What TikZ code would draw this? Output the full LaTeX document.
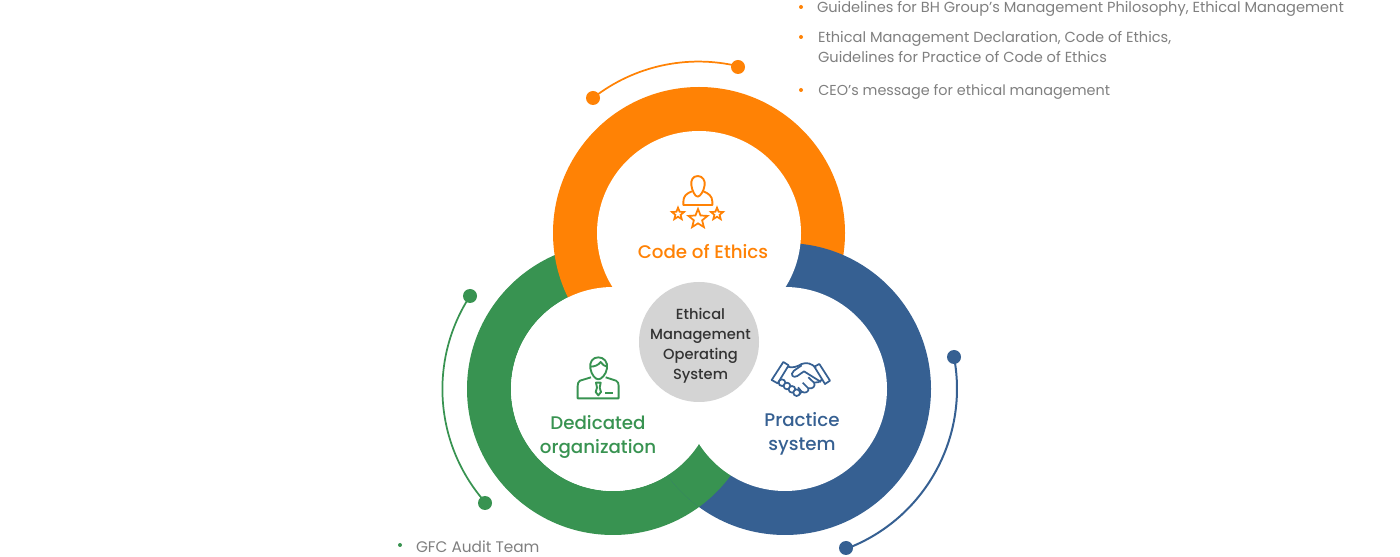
\documentclass[tikz,border=0pt]{standalone}
\usepackage{fontspec}
\setmainfont{Poppins}
\newfontfamily\mediumfont{Poppins Medium}
\usepackage{tikz}
\usetikzlibrary{positioning,shapes.geometric}
\definecolor{orangering}{HTML}{FF8205}
\definecolor{greenring}{HTML}{389351}
\definecolor{bluering}{HTML}{366092}
\definecolor{grayhub}{HTML}{D4D4D4}
\definecolor{grayitem}{HTML}{7F7F7F}
\definecolor{darkhub}{HTML}{333333}
\tikzset{
  itemtext/.style={inner sep=0pt,outer sep=0pt,anchor=west,align=left,text=grayitem,font=\fontsize{10.95}{15}\selectfont},
  bulletdot/.style={circle,fill=#1,inner sep=0pt,minimum size=3pt},
  enddot/.style={circle,fill=#1,inner sep=0pt,minimum size=10.5pt},
  ringlabel/.style={inner sep=0pt,align=center,text=#1,font=\mediumfont\fontsize{13.7}{18}\selectfont},
  iconstar/.style={star,star points=5,star point ratio=2.3,draw=orangering,line width=1.3pt,inner sep=0pt,minimum size=#1},
}
\begin{document}
\begin{tikzpicture}[x=.75pt,y=.75pt]
\useasboundingbox (0,0) rectangle (1400,557);
% RINGS: green first, then orange and blue, then the green piece back over blue
\fill[greenring,even odd rule] (613,168) circle[radius=146] (613,168) circle[radius=102];
\fill[orangering] (699,324) circle[radius=146];
\fill[bluering] (785,168) circle[radius=146];
\begin{scope}
\clip (785,168) circle[radius=146];
\fill[greenring] (613,168) circle[radius=146];
\end{scope}
% INNER DISCS
\foreach \cx/\cy in {699/324,613/168,785/168}
  \fill[white] (\cx,\cy) circle[radius=102];
% HUB
\node[circle,fill=grayhub,inner sep=0pt,minimum size=90pt] (hub) at (699,215) {};
\node[inner sep=0pt,align=center,text=darkhub,font=\mediumfont\fontsize{11}{15}\selectfont] (hubtext) at (700.5,211.5) {Ethical\\Management\\Operating\\System};
% LABELS
\node[ringlabel=orangering] (ethics) at (703,305) {Code of Ethics};
\node[ringlabel=greenring] (dedicated) at (598,120) {Dedicated\\organization};
\node[ringlabel=bluering] (practice) at (802,123) {Practice\\system};
% ARCS WITH END DOTS
\node[enddot=orangering] (orangeA) at (593,459) {};
\node[enddot=orangering] (orangeB) at (738,490) {};
\draw[orangering,line width=1.3pt] (orangeA.center) arc[start angle=128.1,end angle=76.8,radius=171];
\node[enddot=greenring] (greenA) at (470,261) {};
\node[enddot=greenring] (greenB) at (485,54) {};
\draw[greenring,line width=1.3pt] (greenA.center) arc[start angle=147,end angle=221.7,radius=171];
\node[enddot=bluering] (blueA) at (954,200) {};
\node[enddot=bluering] (blueB) at (846,9) {};
\draw[bluering,line width=1.5pt] (blueA.center) arc[start angle=10.7,end angle=-69,radius=171];
% ICON: person with stars
\begin{scope}[shift={(620,397)},x=.25pt,y=-.25pt,orangering,line width=1.4pt,line join=round]
\draw (233,48) .. controls (218,48) and (212,62) .. (214,75) .. controls (216,92) and (225,110) .. (233,110) .. controls (241,110) and (252,92) .. (254,75) .. controls (256,62) and (248,48) .. (233,48);
\draw (216,94) .. controls (200,100) and (190,108) .. (190,125) -- (190,135) -- (277,135) -- (277,125) .. controls (277,108) and (265,100) .. (250,94);
\end{scope}
\node[iconstar=9.5pt] (starL) at (678,343) {};
\node[iconstar=15pt] (starM) at (698,338) {};
\node[iconstar=9.5pt] (starR) at (717,343) {};
% ICON: man with tie
\begin{scope}[shift={(530,217)},x=.25pt,y=-.25pt,greenring,line width=1.4pt,line join=round]
\draw (205,52) .. controls (188,52) and (178,66) .. (181,85) .. controls (184,104) and (196,118) .. (205,118) .. controls (214,118) and (228,104) .. (231,85) .. controls (234,66) and (222,52) .. (205,52);
\draw (181,80) .. controls (195,80) and (205,75) .. (212,66) .. controls (216,74) and (224,78) .. (231,80);
\draw (183,112) -- (150,122) .. controls (145,125) and (143,130) .. (143,138) -- (143,175) -- (266,175) -- (266,138) .. controls (266,130) and (264,125) .. (258,122) -- (227,112);
\draw (198,128) -- (212,128) -- (209,143) -- (213,156) -- (205,166) -- (197,156) -- (201,143) -- cycle;
\draw (226,160) -- (248,160);
\end{scope}
% ICON: handshake
\begin{scope}[shift={(530,217)},x=.25pt,y=-.25pt,bluering,line width=1.3pt,line join=round]
\draw (725,120) -- (760,66) -- (776,76) -- (743,130) -- cycle;
\draw (900,122) -- (868,72) -- (853,80) -- (885,132) -- cycle;
\draw (772,80) .. controls (790,85) and (800,80) .. (815,72) .. controls (830,66) and (845,70) .. (858,84);
\draw (815,76) -- (792,92) .. controls (778,104) and (790,116) .. (802,108) -- (822,94) -- (873,126);
\draw (747,128) -- (762,140) (852,128) .. controls (862,130) and (870,125) .. (877,118);
\draw (835,112) -- (852,128) .. controls (858,138) and (848,148) .. (835,145) -- (818,128);
\draw (835,145) .. controls (838,155) and (825,162) .. (815,155) -- (804,142);
\draw (815,155) .. controls (812,162) and (806,166) .. (800,163);
\foreach \kx/\ky in {756/128,771/138,786/148,800/158}
  \draw[fill=white] (\kx,\ky) circle[radius=10];
\end{scope}
% LISTS
\node[bulletdot=orangering] (dotA) at (801,550) {};
\node[itemtext,right=12pt of dotA.center,yshift=-1.2pt] (itemA) {Guidelines for BH Group's Management Philosophy, Ethical Management};
\node[bulletdot=orangering] (dotB) at (801,520) {};
\node[itemtext,right=12.8pt of dotB.center,anchor=north west,yshift=4pt] (itemB) {Ethical Management Declaration, Code of Ethics,\\Guidelines for Practice of Code of Ethics};
\node[bulletdot=orangering] (dotC) at (801,467) {};
\node[itemtext,right=13pt of dotC.center,yshift=-1.2pt,font=\fontsize{10.8}{15}\selectfont] (itemC) {CEO's message for ethical management};
\node[bulletdot=greenring] (dotD) at (400,12) {};
\node[itemtext,right=12pt of dotD.center,yshift=-1pt,font=\fontsize{11.5}{15}\selectfont] (itemD) {GFC Audit Team};
\end{tikzpicture}
\end{document}
